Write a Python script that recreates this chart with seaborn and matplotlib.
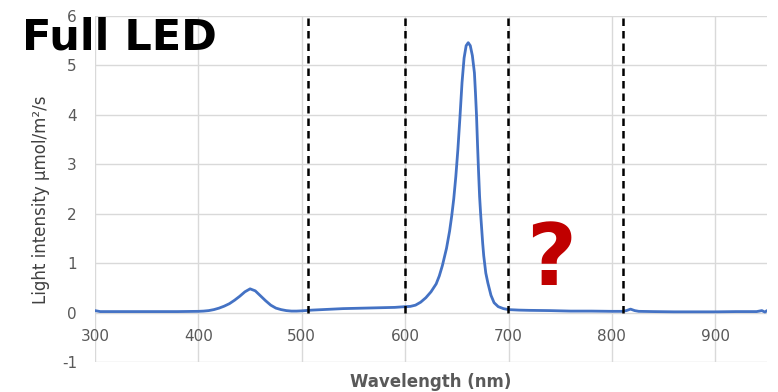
import matplotlib
matplotlib.use("Agg")
import matplotlib.pyplot as plt
import seaborn as sns
import pandas as pd

# Spectrum
wavelength = [300, 305, 310, 320, 340, 360, 380, 400, 405, 410, 415, 420, 425, 430, 435,
              440, 445, 450, 455, 460, 465, 470, 475, 480, 485, 490, 495, 500, 510, 520,
              530, 540, 550, 560, 570, 580, 590, 600, 605, 610, 615, 620, 625, 630, 633,
              636, 640, 643, 645, 647, 649, 651, 653, 655, 657, 659, 661, 663, 665, 667,
              668, 669, 670, 671, 672, 673, 675, 676, 678, 680, 683, 686, 690, 695, 700,
              710, 720, 740, 760, 780, 800, 810, 814, 818, 822, 826, 840, 860, 880, 900,
              920, 940, 945, 948, 950]
intensity = [0.04, 0.02, 0.02, 0.02, 0.02, 0.02, 0.02, 0.025, 0.03, 0.04, 0.06, 0.09, 0.13, 0.18, 0.25,
             0.33, 0.42, 0.48, 0.44, 0.34, 0.24, 0.15, 0.09, 0.06, 0.04, 0.03, 0.03, 0.035, 0.05, 0.06,
             0.07, 0.08, 0.085, 0.09, 0.095, 0.10, 0.105, 0.12, 0.125, 0.15, 0.21, 0.30, 0.42, 0.58, 0.74,
             0.95, 1.30, 1.65, 1.95, 2.30, 2.75, 3.30, 3.95, 4.65, 5.15, 5.40, 5.46, 5.40, 5.20, 4.85,
             4.45, 4.00, 3.40, 2.85, 2.35, 2.00, 1.40, 1.15, 0.80, 0.60, 0.35, 0.20, 0.12, 0.08, 0.06,
             0.05, 0.045, 0.04, 0.03, 0.03, 0.025, 0.025, 0.04, 0.07, 0.04, 0.025, 0.02, 0.015, 0.015, 0.015,
             0.02, 0.02, 0.04, 0.01, 0.04]

dashed_x = [506, 600, 699, 811]
x_ticks = [300, 400, 500, 600, 700, 800, 900]
y_ticks = [-1, 0, 1, 2, 3, 4, 5, 6]

df = pd.DataFrame({"Wavelength": wavelength, "Intensity": intensity})

sns.set_theme(style="white")
plt.rcParams["font.family"] = ["DejaVu Sans"]

fig = plt.figure(figsize=(7.78, 3.92), dpi=100)
ax = fig.add_axes([95 / 778, 1 - 362 / 392, 672 / 778, 346 / 392])

sns.lineplot(data=df, x="Wavelength", y="Intensity", ax=ax, color="#4472C4", linewidth=2.0, zorder=3)

for xv in dashed_x:
    ax.plot([xv, xv], [0, 6], color="black", linewidth=1.8, dashes=(3, 2), zorder=4)

ax.set_xlim(300, 950)
ax.set_ylim(-1, 6)
ax.set_xticks(x_ticks)
ax.set_yticks(y_ticks)
ax.set_yticklabels([str(v) for v in y_ticks])
ax.grid(True, color="#d9d9d9", linewidth=1.0, zorder=0)
ax.set_axisbelow(True)

for s in ["top", "right", "left"]:
    ax.spines[s].set_visible(False)
ax.spines["bottom"].set_position(("data", 0))
ax.spines["bottom"].set_visible(False)

ax.tick_params(axis="x", length=0, pad=12, labelsize=11, labelcolor="#595959")
ax.tick_params(axis="y", length=0, pad=13, labelsize=11, labelcolor="#595959")

ax.set_xlabel("")
ax.set_ylabel("Light intensity µmol/m²/s", fontsize=12, color="#404040")
ax.yaxis.set_label_coords(-0.067, 0.47)

fig.text(431 / 778, 1 - 382 / 392, "Wavelength (nm)", ha="center", va="center",
         fontsize=12, fontweight="bold", color="#595959")

fig.text(22 / 778, 1 - 50 / 392, "Full LED", ha="left", va="baseline",
         fontsize=31, fontweight="bold", color="black")

fig.text(551 / 778, 1 - 285 / 392, "?", ha="center", va="baseline",
         fontsize=62, fontweight="bold", color="#C00000")

fig.savefig("out.png", dpi=100)
